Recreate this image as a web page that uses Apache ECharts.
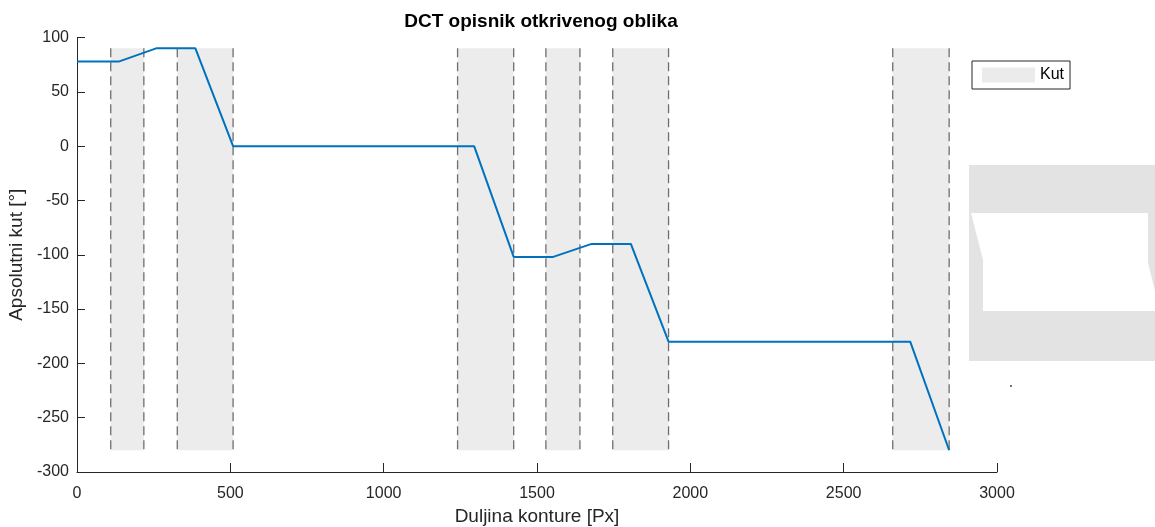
<!DOCTYPE html>
<html>
<head>
<meta charset="utf-8">
<script src="https://cdn.jsdelivr.net/npm/echarts@6/dist/echarts.min.js"></script>
<style>html,body{margin:0;padding:0;background:#fff}#c{width:1155px;height:527px}</style>
</head>
<body>
<div id="c"></div>
<script>
// Contour position [Px] and absolute angle [°]
const lineX = [0, 138, 258, 386, 509, 1295, 1424, 1553, 1678, 1806, 1929, 2717, 2844];
const lineY = [78, 78, 90, 90, 0, 0, -102, -102, -90, -90, -180, -180, -280];
// Shaded "Kut" regions
const regionStart = [110, 327, 1241, 1529, 1747, 2660];
const regionEnd   = [218, 509, 1424, 1640, 1929, 2844];
const regionBottom = -280;
const regionTop = 90;
const xTicks = [0, 500, 1000, 1500, 2000, 2500, 3000];
const yTicks = [-300, -250, -200, -150, -100, -50, 0, 50, 100];

const chart = echarts.init(document.getElementById('c'));
const font = 'Liberation Sans, Arial, sans-serif';
const axisColor = '#262626';

const lineData = lineX.map((x, i) => [x, lineY[i]]);
const regionData = regionStart.map((s, i) => [s, regionEnd[i], regionBottom, regionTop]);

chart.setOption({
  animation: false,
  backgroundColor: '#fff',
  title: {
    text: 'DCT opisnik otkrivenog oblika',
    left: 536, top: 7, textAlign: 'center',
    textStyle: { fontFamily: font, fontSize: 19, fontWeight: 'bold', color: '#000' }
  },
  legend: {
    data: [{ name: 'Kut', icon: 'rect' }],
    left: 972, top: 61,
    orient: 'vertical',
    padding: [6, 6, 6, 10],
    itemWidth: 53, itemHeight: 15, itemGap: 0,
    borderColor: axisColor, borderWidth: 1,
    textStyle: { fontFamily: font, fontSize: 16, color: '#000' }
  },
  grid: { left: 77, right: 158, top: 37.5, bottom: 55, containLabel: false, outerBoundsMode: 'none' },
  xAxis: {
    type: 'value', min: xTicks[0], max: xTicks[xTicks.length - 1], interval: 500,
    name: 'Duljina konture [Px]', nameLocation: 'middle', nameGap: 34,
    nameTextStyle: { fontFamily: font, fontSize: 19, color: axisColor },
    axisLine: { show: true, onZero: false, lineStyle: { color: axisColor, width: 1 } },
    axisTick: { show: true, inside: true, length: 9, lineStyle: { color: axisColor } },
    axisLabel: { fontFamily: font, fontSize: 16, color: axisColor, margin: 14,
                 formatter: v => String(v) },
    splitLine: { show: false }
  },
  yAxis: {
    type: 'value', min: yTicks[0], max: yTicks[yTicks.length - 1], interval: 50,
    name: 'Apsolutni kut [°]', nameLocation: 'middle', nameGap: 49,
    nameTextStyle: { fontFamily: font, fontSize: 19, color: axisColor },
    axisLine: { show: true, lineStyle: { color: axisColor, width: 1 } },
    axisTick: { show: true, inside: true, length: 8, lineStyle: { color: axisColor } },
    axisLabel: { fontFamily: font, fontSize: 16, color: axisColor, margin: 8,
                 formatter: v => String(v) },
    splitLine: { show: false }
  },
  series: [
    {
      name: 'Kut', type: 'custom', z: 1,
      itemStyle: { color: '#ebebeb' },
      encode: { x: [0, 1], y: [2, 3] },
      data: regionData,
      renderItem: function (params, api) {
        const p0 = api.coord([api.value(0), api.value(3)]);
        const p1 = api.coord([api.value(1), api.value(2)]);
        const dash = { stroke: '#6e6e6e', lineWidth: 1.3, lineDash: [9, 5] };
        return {
          type: 'group',
          children: [
            { type: 'rect', shape: { x: p0[0], y: p0[1], width: p1[0] - p0[0], height: p1[1] - p0[1] }, style: { fill: '#ececec' } },
            { type: 'line', shape: { x1: p0[0], y1: p0[1], x2: p0[0], y2: p1[1] }, style: dash },
            { type: 'line', shape: { x1: p1[0], y1: p0[1], x2: p1[0], y2: p1[1] }, style: dash }
          ]
        };
      }
    },
    {
      name: 'Opisnik', type: 'line', z: 3,
      data: lineData, showSymbol: false, symbol: 'none',
      lineStyle: { color: '#0072BD', width: 2 }
    }
  ],
  graphic: [
    {
      type: 'polygon', silent: true,
      shape: { points: [[969,165],[1155,165],[1155,361],[969,361]] },
      style: { fill: '#e3e3e3' }
    },
    {
      type: 'polygon', silent: true,
      shape: { points: [[971,213],[1148,213],[1148,263],[1155,291],[1155,311],[983,311],[983,260]] },
      style: { fill: '#ffffff' }
    },
    {
      type: 'circle', silent: true,
      shape: { cx: 1011, cy: 386, r: 1 },
      style: { fill: '#444' }
    }
  ]
});
</script>
</body>
</html>
